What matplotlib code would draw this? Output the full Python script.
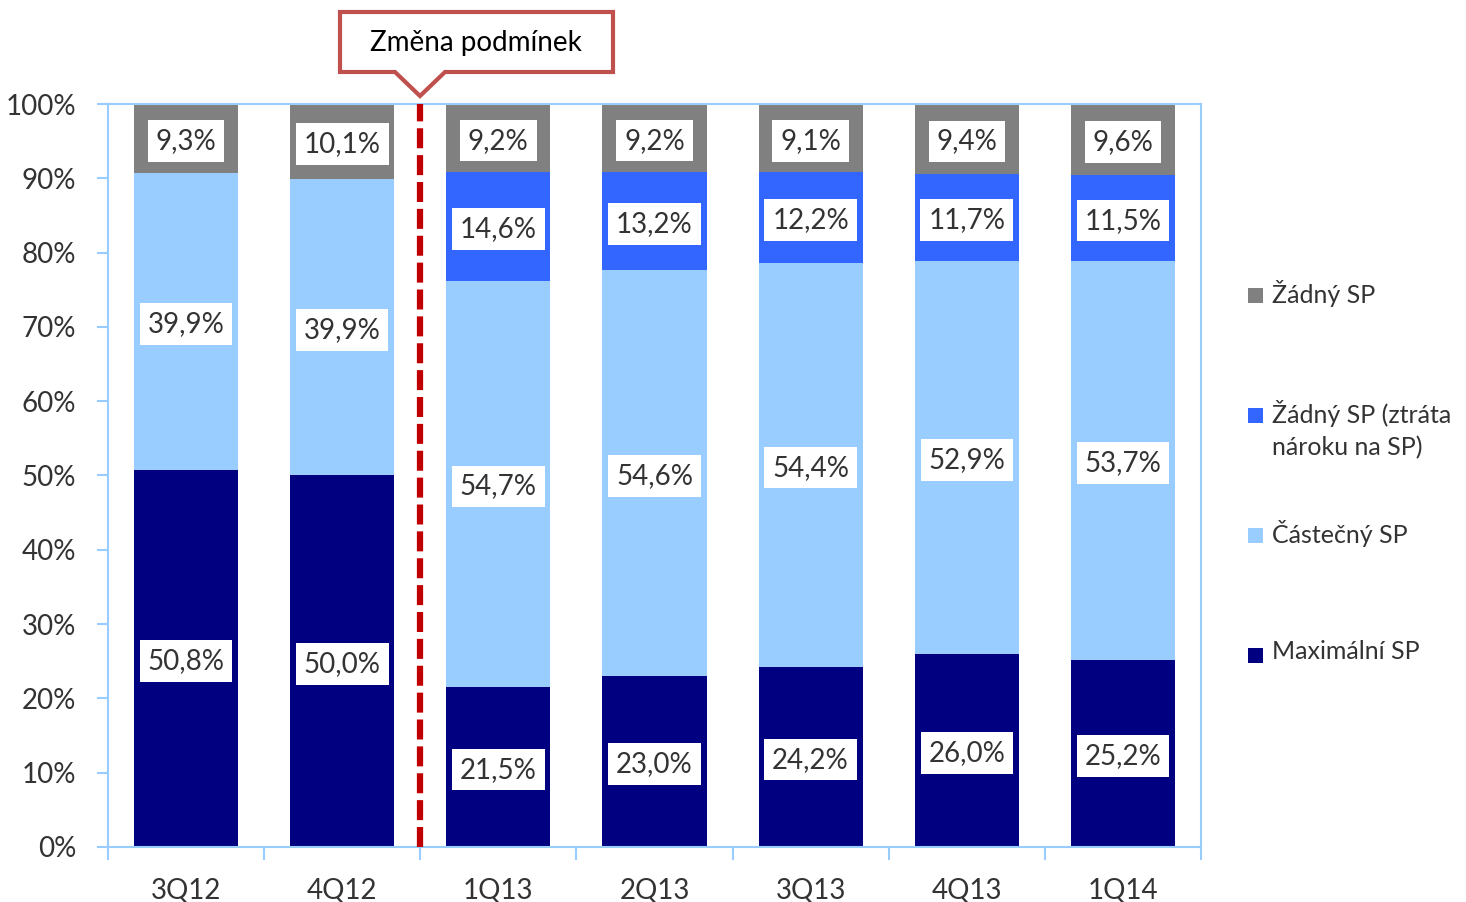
import matplotlib
matplotlib.use('Agg')
import matplotlib.pyplot as plt
from matplotlib.patches import Rectangle, Polygon
import numpy as np

plt.rcParams['font.family'] = ['Lato', 'DejaVu Sans']

# data
quarters = ['3Q12', '4Q12', '1Q13', '2Q13', '3Q13', '4Q13', '1Q14']
maximalni = [50.8, 50.0, 21.5, 23.0, 24.2, 26.0, 25.2]
castecny = [39.9, 39.9, 54.7, 54.6, 54.4, 52.9, 53.7]
ztrata = [0, 0, 14.6, 13.2, 12.2, 11.7, 11.5]
zadny = [9.3, 10.1, 9.2, 9.2, 9.1, 9.4, 9.6]

series = [
    ('Maximální SP', maximalni, '#000080'),
    ('Částečný SP', castecny, '#99CCFF'),
    ('Žádný SP (ztráta\nnároku na SP)', ztrata, '#3366FF'),
    ('Žádný SP', zadny, '#808080'),
]

text_col = '#333333'
axis_col = '#99CCFF'
fs = 20

fig = plt.figure(figsize=(14.66, 9.02), dpi=100)
ax = fig.add_axes([0.0737, 0.061, 0.7455, 0.8237])

x = np.arange(len(quarters))
bottom = np.zeros(len(quarters))
for name, vals, col in series:
    vals = np.array(vals)
    ax.bar(x, vals, bottom=bottom, width=0.667, color=col, zorder=2)
    for xi, b, v in zip(x, bottom, vals):
        if v > 0:
            lab = f'{v:.1f}%'.replace('.', ',')
            ax.text(xi, b + v / 2, lab, ha='center', va='center_baseline', fontsize=fs,
                    color=text_col, zorder=4,
                    bbox=dict(boxstyle='square,pad=0.28', fc='white', ec='none'))
    bottom += vals

ax.set_xlim(-0.5, len(quarters) - 0.5)
ax.set_ylim(0, 100)

# axes styling
for s in ax.spines.values():
    s.set_color(axis_col)
    s.set_linewidth(1.5)
ax.set_yticks(np.arange(0, 101, 10))
ax.set_yticklabels([f'{v}%' for v in range(0, 101, 10)])
ax.set_xticks(x)
ax.set_xticklabels(quarters)
ax.set_xticks(np.arange(-0.5, len(quarters)), minor=True)
ax.tick_params(axis='x', which='major', length=0, pad=22, labelsize=fs, labelcolor=text_col)
ax.tick_params(axis='x', which='minor', length=9, color=axis_col, width=1.5)
ax.tick_params(axis='y', length=8, color=axis_col, width=1.5, labelsize=fs,
               labelcolor=text_col, pad=15)

# dashed divider
ln = ax.axvline(1.5, color='#C00000', lw=4.5, zorder=3)
ln.set_dashes((3.2, 1.1))

# callout
W, H = 1466, 902
def fp(px, py):
    return (px / W, 1 - py / H)
pts = [fp(340, 12), fp(613, 12), fp(613, 72), fp(445, 72), fp(420, 96),
       fp(395, 72), fp(340, 72)]
fig.patches.append(Polygon(pts, closed=True, transform=fig.transFigure,
                           fc='white', ec='#C0504D', lw=3, joinstyle='miter'))
fig.text(476 / W, 1 - 43 / H, 'Změna podmínek', ha='center', va='center',
         fontsize=fs, color='black')

# legend
leg_items = [
    ('Žádný SP', '#808080', 295),
    ('Žádný SP (ztráta\nnároku na SP)', '#3366FF', 415),
    ('Částečný SP', '#99CCFF', 535),
    ('Maximální SP', '#000080', 655),
]
for name, col, py in leg_items:
    fig.patches.append(Rectangle((1248 / W, 1 - (py + 8) / H), 15 / W, 15 / H,
                                 transform=fig.transFigure, fc=col, ec='none'))
    fig.text(1272 / W, 1 - (py - 15) / H, name, ha='left', va='top',
             fontsize=18, color=text_col, linespacing=1.45)

fig.savefig('out.png', dpi=100)
